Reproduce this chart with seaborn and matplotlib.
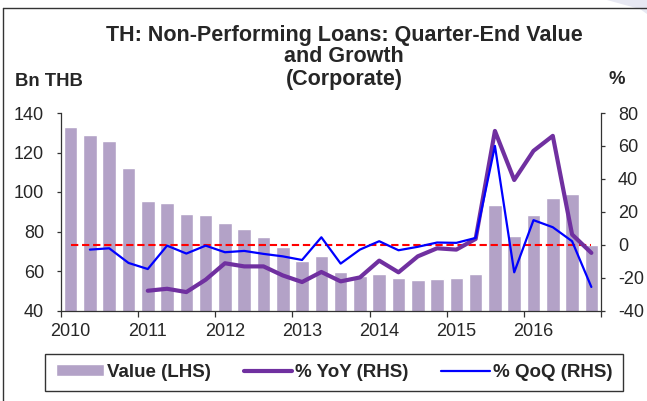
import numpy as np
import pandas as pd
import matplotlib
matplotlib.use("Agg")
import matplotlib.pyplot as plt
import seaborn as sns
from matplotlib.ticker import FixedLocator, NullFormatter, FixedFormatter
from matplotlib.lines import Line2D
from matplotlib.patches import Polygon

# ---------------- data ----------------
years = ["2010", "2011", "2012", "2013", "2014", "2015", "2016"]
quarters = [f"{y}Q{q}" for y in years for q in range(1, 5)]

value_lhs = [133.0, 129.0, 126.0, 112.0, 95.5, 94.3, 89.1, 88.4, 84.4, 81.4,
             77.0, 71.9, 65.0, 67.8, 59.7, 57.4, 58.4, 56.4, 55.4, 56.0,
             56.7, 58.6, 93.5, 77.5, 88.6, 97.1, 98.9, 73.4]

yoy_rhs = [np.nan, np.nan, np.nan, np.nan,
           -28.0, -26.8, -28.8, -21.3, -11.3, -13.2, -13.2, -18.7, -22.7, -16.6,
           -22.3, -19.9, -9.7, -16.8, -7.1, -2.2, -3.0, 3.5, 69.1, 39.3,
           57.0, 66.1, 6.2, -5.0]

qoq_rhs = [np.nan, -3.0, -2.2, -11.1, -14.8, -0.6, -5.4, -0.6, -4.6, -3.8,
           -5.6, -7.1, -9.3, 4.5, -11.5, -3.0, 2.1, -3.4, -1.3, 1.3,
           1.1, 4.1, 60.0, -16.8, 14.9, 10.6, 2.1, -25.7]

zero_ref = [0.0] * len(quarters)

labels = ["Value (LHS)", "% YoY (RHS)", "% QoQ (RHS)"]

df = pd.DataFrame({"quarter": quarters, "pos": np.arange(len(quarters)),
                   "value": value_lhs, "yoy": yoy_rhs, "qoq": qoq_rhs,
                   "zero": zero_ref})

# ---------------- style ----------------
sns.set_style("ticks")
plt.rcParams["font.family"] = ["Liberation Sans", "DejaVu Sans"]
plt.rcParams["axes.unicode_minus"] = False

BAR_C = "#b3a2c7"
YOY_C = "#7030a0"
QOQ_C = "#0000ff"
SPINE_C = "#333333"

W, H = 647, 401
fig = plt.figure(figsize=(W / 100, H / 100), dpi=100)
fig.patch.set_facecolor("white")

ax = fig.add_axes([61 / W, 1 - 310.5 / H, 540 / W, (310.5 - 113) / H])
sns.barplot(data=df, x="pos", y="value", color=BAR_C, saturation=1,
            width=0.7, ax=ax, zorder=2)

ax2 = ax.twinx()
sns.lineplot(data=df, x="pos", y="zero", color="#ff0000", lw=1.5,
             linestyle=(0, (3.5, 1.8)), ax=ax2)
sns.lineplot(data=df, x="pos", y="yoy", color=YOY_C, lw=3.0, ax=ax2)
sns.lineplot(data=df, x="pos", y="qoq", color=QOQ_C, lw=1.6, ax=ax2)

# axes limits and ticks
ax.set_xlim(-0.5, len(quarters) - 0.5)
ax.set_ylim(40, 140)
ax2.set_ylim(-40, 80)
ax.set_yticks(np.arange(40, 141, 20))
ax2.set_yticks(np.arange(-40, 81, 20))

ax.xaxis.set_major_locator(FixedLocator(np.arange(-0.5, len(quarters), 4)))
ax.xaxis.set_major_formatter(NullFormatter())
ax.xaxis.set_minor_locator(FixedLocator(np.arange(0, len(quarters), 4)))
ax.xaxis.set_minor_formatter(FixedFormatter(years))

for a in (ax, ax2):
    a.set_xlabel("")
    a.set_ylabel("")
    a.spines["top"].set_visible(False)
    for s in a.spines.values():
        s.set_color(SPINE_C)
        s.set_linewidth(0.9)

ax.spines["right"].set_visible(False)
ax2.spines["left"].set_visible(False)
ax2.spines["bottom"].set_visible(False)

ax.tick_params(axis="y", direction="out", length=2.6, width=0.9,
               color=SPINE_C, labelsize=13, pad=9.5)
ax2.tick_params(axis="y", direction="out", length=2.6, width=0.9,
                color=SPINE_C, labelsize=13, pad=9.5)
ax.tick_params(axis="x", which="major", direction="out", length=4,
               width=0.9, color=SPINE_C)
ax.tick_params(axis="x", which="minor", length=0, labelsize=13, pad=9)

# ---------------- texts ----------------
title_lines = ["TH: Non-Performing Loans: Quarter-End Value", "and Growth",
               "(Corporate)"]
for i, line in enumerate(title_lines):
    fig.text(344 / W, 1 - (35 + 22 * i) / H, line, ha="center", va="center",
             fontsize=15.5, fontweight="bold")
fig.text(15 / W, 1 - 82 / H, "Bn THB", ha="left", va="center",
         fontsize=13.3, fontweight="bold")
fig.text(617 / W, 1 - 79 / H, "%", ha="center", va="center",
         fontsize=13.3, fontweight="bold")

# ---------------- legend ----------------
handles = [ax.patches[0], ax2.lines[1], ax2.lines[2]]
fig.legend(handles, labels, loc="center",
           bbox_to_anchor=(36 / W, 1 - 393 / H, 596 / W, 41 / H),
           mode="expand", ncol=3, frameon=True, fancybox=False,
           edgecolor=SPINE_C, framealpha=1,
           prop={"weight": "bold", "size": 13.5},
           handlelength=2.6, handletextpad=0.15, borderpad=0.55,
           columnspacing=1.4, handleheight=0.6)

# ---------------- outer frame ----------------
fig.add_artist(Line2D([3 / W, 3 / W], [0, 1 - 8 / H], color=SPINE_C,
                      lw=1, transform=fig.transFigure))
fig.add_artist(Line2D([3 / W, 1], [1 - 8 / H, 1 - 8 / H], color=SPINE_C,
                      lw=1, transform=fig.transFigure))
deco = Polygon([(607 / W, 1), (1, 1), (1, 1 - 14 / H), (640 / W, 1 - 9 / H),
                (625 / W, 1 - 5 / H)], closed=True, facecolor="#e7e8f2",
               edgecolor="none", transform=fig.transFigure)
fig.add_artist(deco)

fig.savefig("out.png", dpi=100)
